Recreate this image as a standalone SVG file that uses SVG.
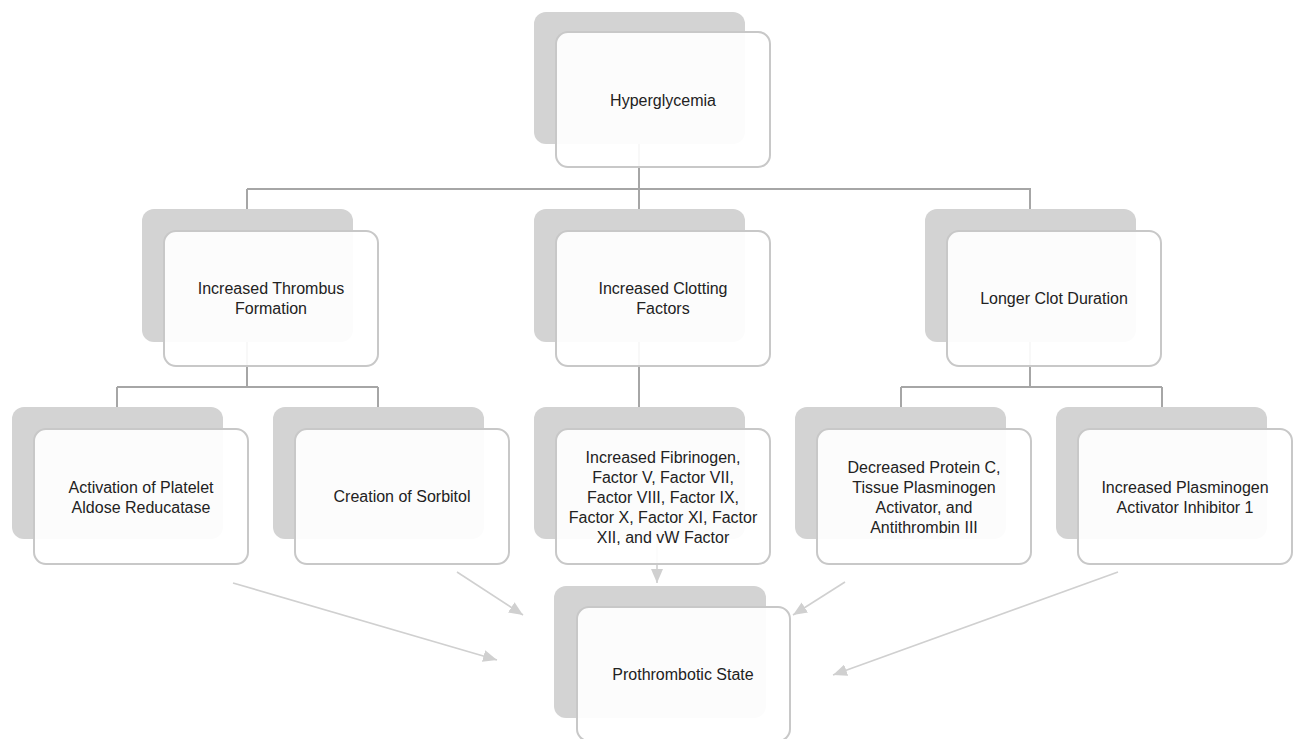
<svg xmlns="http://www.w3.org/2000/svg" width="1294" height="739" viewBox="0 0 1294 739">
<defs>
<style>
.back{fill:#d3d3d3;}
.front{fill:#ffffff;fill-opacity:0.92;stroke:#c8c8c8;stroke-width:2;}
.lbl{font-family:"Liberation Sans",Arial,sans-serif;font-size:16px;fill:#222222;text-anchor:middle;dominant-baseline:central;}
.tree{fill:none;stroke:#a6a6a6;stroke-width:2;}
.arr{fill:none;stroke:#d0d0d0;stroke-width:1.6;marker-end:url(#ah);}
</style>
<marker id="ah" markerUnits="userSpaceOnUse" markerWidth="14" markerHeight="12" viewBox="0 0 14 12" refX="14" refY="6" orient="auto">
<path d="M0,0 L14,6 L0,12 Z" fill="#d0d0d0"/>
</marker>
</defs>
<rect width="1294" height="739" fill="#ffffff"/>
<g id="connectors">
<path class="tree" d="M639,144 V189 M247,189 H1031 M247,189 V209 M639,189 V209 M1030,189 V209"/>
<path class="tree" d="M247,342 V387 M117,387 H378 M117,387 V407 M378,387 V407"/>
<path class="tree" d="M639,342 V407"/>
<path class="tree" d="M1030,342 V387 M901,387 H1162 M901,387 V407 M1162,387 V407"/>
<path class="arr" d="M233,583 L497,660"/>
<path class="arr" d="M457,572 L523,615"/>
<path class="arr" d="M657,541 L657,583"/>
<path class="arr" d="M845,582 L793,615"/>
<path class="arr" d="M1118,572 L833,675"/>
</g>
<g id="hyperglycemia">
<rect class="back" x="534" y="12" width="211" height="132" rx="12"/>
<rect class="front" x="556" y="32" width="214" height="135" rx="12"/>
<text class="lbl" x="663" y="100">Hyperglycemia</text>
</g>
<g id="thrombus">
<rect class="back" x="142" y="209" width="211" height="133" rx="12"/>
<rect class="front" x="164" y="231" width="214" height="135" rx="12"/>
<text class="lbl" x="271" y="288">Increased Thrombus</text>
<text class="lbl" x="271" y="308">Formation</text>
</g>
<g id="clotting">
<rect class="back" x="534" y="209" width="211" height="133" rx="12"/>
<rect class="front" x="556" y="231" width="214" height="135" rx="12"/>
<text class="lbl" x="663" y="288">Increased Clotting</text>
<text class="lbl" x="663" y="308">Factors</text>
</g>
<g id="clotduration">
<rect class="back" x="925" y="209" width="211" height="133" rx="12"/>
<rect class="front" x="947" y="231" width="214" height="135" rx="12"/>
<text class="lbl" x="1054" y="298">Longer Clot Duration</text>
</g>
<g id="platelet">
<rect class="back" x="12" y="407" width="211" height="132" rx="12"/>
<rect class="front" x="34" y="429" width="214" height="135" rx="12"/>
<text class="lbl" x="141" y="487">Activation of Platelet</text>
<text class="lbl" x="141" y="507">Aldose Reducatase</text>
</g>
<g id="sorbitol">
<rect class="back" x="273" y="407" width="211" height="132" rx="12"/>
<rect class="front" x="295" y="429" width="214" height="135" rx="12"/>
<text class="lbl" x="402" y="496">Creation of Sorbitol</text>
</g>
<g id="fibrinogen">
<rect class="back" x="534" y="407" width="211" height="132" rx="12"/>
<rect class="front" x="556" y="429" width="214" height="135" rx="12"/>
<text class="lbl" x="663" y="457">Increased Fibrinogen,</text>
<text class="lbl" x="663" y="477">Factor V, Factor VII,</text>
<text class="lbl" x="663" y="497">Factor VIII, Factor IX,</text>
<text class="lbl" x="663" y="517">Factor X, Factor XI, Factor</text>
<text class="lbl" x="663" y="537">XII, and vW Factor</text>
</g>
<g id="proteinc">
<rect class="back" x="795" y="407" width="211" height="132" rx="12"/>
<rect class="front" x="817" y="429" width="214" height="135" rx="12"/>
<text class="lbl" x="924" y="467">Decreased Protein C,</text>
<text class="lbl" x="924" y="487">Tissue Plasminogen</text>
<text class="lbl" x="924" y="507">Activator, and</text>
<text class="lbl" x="924" y="527">Antithrombin III</text>
</g>
<g id="pai1">
<rect class="back" x="1056" y="407" width="211" height="132" rx="12"/>
<rect class="front" x="1078" y="429" width="214" height="135" rx="12"/>
<text class="lbl" x="1185" y="487">Increased Plasminogen</text>
<text class="lbl" x="1185" y="507">Activator Inhibitor 1</text>
</g>
<g id="prothrombotic">
<rect class="back" x="554" y="586" width="212" height="132" rx="12"/>
<rect class="front" x="577" y="607" width="213" height="134" rx="12"/>
<text class="lbl" x="683" y="674">Prothrombotic State</text>
</g>
</svg>
